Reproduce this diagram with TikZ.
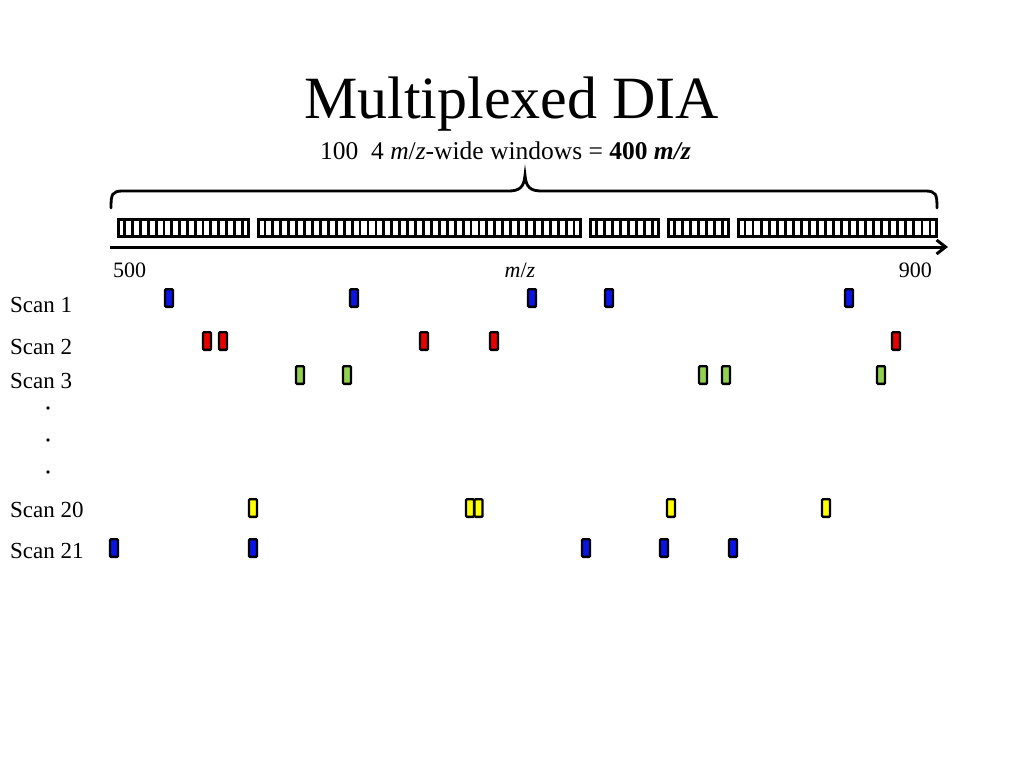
\documentclass[tikz,border=0pt]{standalone}
\usepackage{fontspec}
\setmainfont{Liberation Serif}
\usetikzlibrary{arrows.meta}
\definecolor{mkblue}{RGB}{10,20,230}
\definecolor{mkred}{RGB}{235,0,0}
\definecolor{mkgreen}{RGB}{146,208,80}
\definecolor{mkyellow}{RGB}{255,255,0}
\begin{document}
\begin{tikzpicture}[x=1pt,y=-1pt,
  mk/.style={draw=black, line width=2.4pt, rounded corners=1pt, minimum width=8pt, minimum height=17.6pt, inner sep=0pt},
  lab/.style={anchor=base west, inner sep=0pt, font=\fontsize{23}{27}\selectfont},
  axlab/.style={inner sep=0pt, font=\fontsize{22}{26}\selectfont},
  dotmark/.style={circle, fill=black, inner sep=0pt, minimum size=3.8pt}]
\useasboundingbox (0,0) rectangle (1024,768);
% title
\node[anchor=base, inner sep=0pt, font=\fontsize{60}{66}\selectfont] (title) at (511.5,118) {Multiplexed DIA};
\node[anchor=base, inner sep=0pt, font=\fontsize{25.5}{29}\selectfont] (sub) at (505.5,159) {100\ \ 4 \textit{m}/\textit{z}-wide windows = \textbf{400 \textit{m/z}}};
% brace
\coordinate (brL) at (111,208);
\coordinate (brR) at (937,208);
\draw[line width=2.8pt, line cap=round] (brL) .. controls (111,194) and (112,191) .. (123,191)
  -- (508,191) .. controls (519,191) and (524,188) .. (525,175)
  .. controls (526,188) and (531,191) .. (542,191)
  -- (925,191) .. controls (936,191) and (937,194) .. (brR);
% window strip
\foreach \a/\b/\n in {117/250/17, 257/582/41, 589/660/9, 667/730/8, 737/938/25} {
  \pgfmathsetmacro\w{(\b-\a)/\n}
  \pgfmathtruncatemacro\m{\n-1}
  \foreach \k in {1,...,\m} {
    \draw[line width=2.8pt] (\a+\k*\w,219.5) -- (\a+\k*\w,236.5);
  }
  \draw[line width=3pt] (\a+1.5,219.5) rectangle (\b-1.5,236.5);
}
% axis
\coordinate (axL) at (110,247);
\coordinate (axR) at (948,247);
\draw[line width=3pt, -{Straight Barb[length=9pt,width=14pt,line width=3pt]}] (axL) -- (axR);
\node[axlab, anchor=base west] (l500) at (113,277) {500};
\node[axlab, anchor=base] (lmz) at (520,277) {\textit{m}/\textit{z}};
\node[axlab, anchor=base east] (l900) at (932,277) {900};
% scan labels
\node[lab] (sc1) at (10,312) {Scan 1};
\node[lab] (sc2) at (10,354) {Scan 2};
\node[lab] (sc3) at (10,388) {Scan 3};
\node[lab] (sc20) at (10,517) {Scan 20};
\node[lab] (sc21) at (10,558) {Scan 21};
% dots
\node[dotmark] (d1) at (48,408) {};
\node[dotmark] (d2) at (48,440) {};
\node[dotmark] (d3) at (48,472) {};
% scan 1
\node[mk, fill=mkblue] (a1) at (169,298) {};
\node[mk, fill=mkblue] (a2) at (354,298) {};
\node[mk, fill=mkblue] (a3) at (532,298) {};
\node[mk, fill=mkblue] (a4) at (609,298) {};
\node[mk, fill=mkblue] (a5) at (849,298) {};
% scan 2
\node[mk, fill=mkred] (b1) at (207,341) {};
\node[mk, fill=mkred] (b2) at (223,341) {};
\node[mk, fill=mkred] (b3) at (424,341) {};
\node[mk, fill=mkred] (b4) at (494,341) {};
\node[mk, fill=mkred] (b5) at (896,341) {};
% scan 3
\node[mk, fill=mkgreen] (c1) at (300,375) {};
\node[mk, fill=mkgreen] (c2) at (347,375) {};
\node[mk, fill=mkgreen] (c3) at (703,375) {};
\node[mk, fill=mkgreen] (c4) at (726,375) {};
\node[mk, fill=mkgreen] (c5) at (881,375) {};
% scan 20
\node[mk, fill=mkyellow] (e1) at (253,508) {};
\node[mk, fill=mkyellow] (e2) at (470,508) {};
\node[mk, fill=mkyellow] (e3) at (478.5,508) {};
\node[mk, fill=mkyellow] (e4) at (671,508) {};
\node[mk, fill=mkyellow] (e5) at (826,508) {};
% scan 21
\node[mk, fill=mkblue] (f1) at (114,548) {};
\node[mk, fill=mkblue] (f2) at (253,548) {};
\node[mk, fill=mkblue] (f3) at (586,548) {};
\node[mk, fill=mkblue] (f4) at (664,548) {};
\node[mk, fill=mkblue] (f5) at (733,548) {};
\end{tikzpicture}
\end{document}
